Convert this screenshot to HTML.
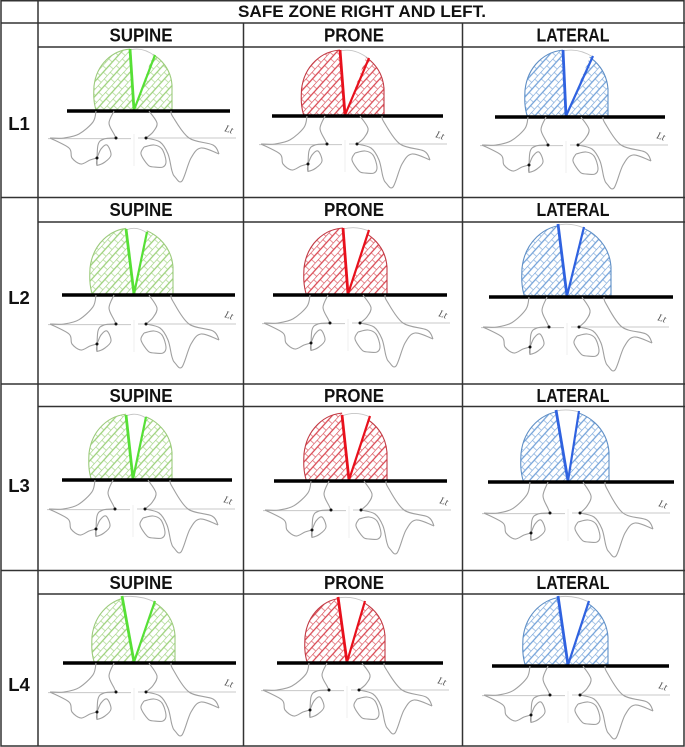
<!DOCTYPE html>
<html lang="en">
<head>
<meta charset="utf-8">
<title>Safe zone right and left</title>
<style>
html,body{margin:0;padding:0;background:#fff;width:685px;height:747px;overflow:hidden}
svg{display:block;filter:blur(.35px)}
text{font-family:"Liberation Sans",sans-serif;font-weight:bold;fill:#111}
</style>
</head>
<body>
<svg id="chart" xmlns="http://www.w3.org/2000/svg" width="685" height="747" viewBox="0 0 685 747">
<defs>
<pattern id="hatch-green" width="9" height="10" patternUnits="userSpaceOnUse" patternTransform="rotate(-48)"><path d="M0 0H9M0 5H9" fill="none" stroke="#9ad078" stroke-width="1.2"/><path d="M2 0V5M6.5 5V10" fill="none" stroke="#9ad078" stroke-width=".6"/></pattern>
<pattern id="hatch-red" width="9" height="10" patternUnits="userSpaceOnUse" patternTransform="rotate(-48)"><path d="M0 0H9M0 5H9" fill="none" stroke="#d8444e" stroke-width="1.2"/><path d="M2 0V5M6.5 5V10" fill="none" stroke="#d8444e" stroke-width=".6"/></pattern>
<pattern id="hatch-blue" width="9" height="10" patternUnits="userSpaceOnUse" patternTransform="rotate(-48)"><path d="M0 0H9M0 5H9" fill="none" stroke="#70a0d8" stroke-width="1.2"/><path d="M2 0V5M6.5 5V10" fill="none" stroke="#70a0d8" stroke-width=".6"/></pattern>
</defs>
<rect width="685" height="747" fill="#fff"/>
<g id="panels"></g>
<g id="grid" stroke="#333" stroke-width="1.5" fill="none">
<path d="M1 .7H684V746H1Z"/>
<path d="M38 0V746"/>
<path d="M243.5 23V746M462.5 23V746"/>
<path d="M1 23H685M1 197.5H685M1 384H685M1 570.5H685"/>
<path d="M38 47H685M38 222H685M38 406.5H685M38 594H685"/>
</g>
<text x="362" y="17" text-anchor="middle" font-size="16.5" textLength="248" lengthAdjust="spacingAndGlyphs">SAFE ZONE RIGHT AND LEFT.</text>
<g id="labels"></g>
</svg>
<script>
const rowLabels = ['L1', 'L2', 'L3', 'L4'];
const columnLabels = ['SUPINE', 'PRONE', 'LATERAL'];
const columnColors = ['#56e035', '#e8101c', '#2f62e0'];
const columnOutline = ['#9ccb7c', '#c23a44', '#5f8fc6'];
const columnHatch = ['hatch-green', 'hatch-red', 'hatch-blue'];

/* Per panel: apexX, barY, barStart, barEnd, domeLeft, domeRight, domeTop,
   leftEdgeX, leftEdgeY, rightEdgeX, rightEdgeY, lateralY */
const panelL1 = [
  [134, 111, 67, 230, 94, 172, 49, 130, 50, 155, 56, 138],
  [345, 116, 272, 443, 301.5, 384, 50, 340, 51, 369, 59, 144],
  [566, 117, 495, 665, 525, 608, 50, 563, 51, 593, 57, 145]
];
const panelL2 = [
  [134, 295, 62, 235, 90, 173, 228, 126, 230, 147, 233, 324],
  [348, 295, 273, 447, 304, 387, 228, 343, 229, 369, 231, 323],
  [567, 297, 489, 673, 522, 611, 225, 558, 225, 584, 228, 327]
];
const panelL3 = [
  [133, 480, 62, 232, 89, 172, 414, 126, 416, 146, 418, 509],
  [349, 481, 274, 447, 304, 387, 413, 342, 416, 370, 417, 510],
  [568, 482, 488, 674, 521, 609, 411, 556, 411, 579, 412, 513]
];
const panelL4 = [
  [134, 663, 63, 236, 92, 175, 597, 122, 597, 155, 602, 692],
  [347, 663, 277, 443, 305, 385, 598, 338, 598, 365, 602, 690],
  [568, 666, 492, 669, 523, 608, 597, 558, 597, 589, 602, 695]
];
const panelRows = [panelL1, panelL2, panelL3, panelL4];

const headerBaselines = [41.5, 216, 402, 589];
const rowLabelBaselines = [130, 304, 492, 691];
const columnCenters = [141, 354, 573];
const columnHeaderWidths = [63, 60, 73];

/* Vertebra outline, relative to the apex x and the lateral reference line */
const leftOuter = [[-38,-27],[-41,-16],[-55,-4],[-70,0],[-84,0]];
const leftLower = [[-84,0],[-65,10],[-62,20],[-53,26],[-44,22],[-37,20]];
const leftOval = [[-37,20],[-37,27],[-29,24],[-23,17],[-27,7],[-33,11],[-37,20]];
const leftStem = [[-18,0],[-30,1],[-36,7],[-37,28]];
const leftCanal = [[-20,-27],[-25,-15],[-20,-4],[-18,0]];
const rightCanal = [[15,-27],[23,-15],[19,-6],[12,0]];
const rightOuter = [[12,0],[26,4],[34,16],[38,33],[41,39],[48,43],[57,20],[67,10],[85,16]];
const rightUpper = [[85,16],[79,7],[55,0],[39,-21],[37,-27]];
const rightBlob = [[10,9],[20,7],[28,11],[32,23],[29,29],[20,29],[14,27],[7,16],[10,9]];
const jointDots = [[-18,0],[12,0],[-37,20]];

const NS = 'http://www.w3.org/2000/svg';
function make(tag, attrs, parent) {
  const el = document.createElementNS(NS, tag);
  for (const k in attrs) el.setAttribute(k, attrs[k]);
  parent.appendChild(el);
  return el;
}
function smooth(pts) {
  let d = 'M' + pts[0][0].toFixed(1) + ' ' + pts[0][1].toFixed(1);
  for (let i = 0; i < pts.length - 1; i++) {
    const p0 = pts[Math.max(i - 1, 0)], p1 = pts[i], p2 = pts[i + 1], p3 = pts[Math.min(i + 2, pts.length - 1)];
    const c1 = [p1[0] + (p2[0] - p0[0]) / 6, p1[1] + (p2[1] - p0[1]) / 6];
    const c2 = [p2[0] - (p3[0] - p1[0]) / 6, p2[1] - (p3[1] - p1[1]) / 6];
    d += 'C' + c1[0].toFixed(1) + ' ' + c1[1].toFixed(1) + ' ' + c2[0].toFixed(1) + ' ' + c2[1].toFixed(1) + ' ' + p2[0].toFixed(1) + ' ' + p2[1].toFixed(1);
  }
  return d;
}

const panelsRoot = document.getElementById('panels');
const labelsRoot = document.getElementById('labels');

panelRows.forEach(function (row, r) {
  const rowLabel = make('text', {x: 19, y: rowLabelBaselines[r], 'text-anchor': 'middle', 'font-size': 18.5}, labelsRoot);
  
  
  rowLabel.textContent = rowLabels[r];

  row.forEach(function (p, c) {
    const [ax, by, b1, b2, dl, dr, dt, lx, ly, rx, ry, latY] = p;
    const slug = columnLabels[c].toLowerCase() + '-' + rowLabels[r].toLowerCase();

    const head = make('text', {x: columnCenters[c], y: headerBaselines[r], 'text-anchor': 'middle', 'font-size': 18, textLength: columnHeaderWidths[c], lengthAdjust: 'spacingAndGlyphs'}, labelsRoot);
    
    
    head.textContent = columnLabels[c];

    const g = make('g', {}, panelsRoot);
    
    

    const U = function (u) { return (dl + u * (dr - dl)).toFixed(1); };
    const V = function (v) { return (dt + v * (by - dt)).toFixed(1); };
    const domeD = 'M' + U(.03) + ' ' + V(1) +
      'C' + U(-.01) + ' ' + V(.85) + ' ' + U(-.005) + ' ' + V(.72) + ' ' + U(0) + ' ' + V(.6) +
      'C' + U(.03) + ' ' + V(.25) + ' ' + U(.24) + ' ' + V(0) + ' ' + U(.5) + ' ' + V(0) +
      'C' + U(.76) + ' ' + V(0) + ' ' + U(.98) + ' ' + V(.25) + ' ' + U(1) + ' ' + V(.58) +
      'L' + U(1) + ' ' + V(1) + 'Z';
    const dome = make('path', {d: domeD, fill: 'url(#' + columnHatch[c] + ')', stroke: columnOutline[c], 'stroke-width': 1.1}, g);
    
    

    const wedge = make('polygon', {points: ax + ',' + by + ' ' + (lx - .3) + ',' + (dt - 4) + ' ' + (rx + 1) + ',' + (dt - 4), fill: '#fff'}, g);
    
    

    const arc = make('path', {d: 'M' + lx + ' ' + ly + 'Q' + ((lx + rx) / 2) + ' ' + (dt - 2.5) + ' ' + rx + ' ' + ry, fill: 'none', stroke: '#c4c4c4', 'stroke-width': .9}, g);
    
    

    const edgeL = make('line', {x1: ax, y1: by - 1, x2: lx, y2: ly - 1, stroke: columnColors[c], 'stroke-width': 2.8}, g);
    
    

    const edgeR = make('line', {x1: ax, y1: by - 1, x2: rx, y2: ry - 1, stroke: columnColors[c], 'stroke-width': 2.2}, g);
    
    

    const bar = make('line', {x1: b1, y1: by, x2: b2, y2: by, stroke: '#000', 'stroke-width': 3.4}, g);
    
    

    const k = (latY - by) / 27;
    const place = function (pts) {
      return pts.map(function (q) { return [ax + q[0], latY + (q[1] < 0 ? q[1] * k : q[1])]; });
    };

    const lateral = make('path', {d: 'M' + (ax - 86) + ' ' + (latY + .6) + 'H' + (ax - 3) + 'M' + (ax + 4) + ' ' + latY + 'H' + (ax + 102), stroke: '#c8c8c8', 'stroke-width': 1, fill: 'none'}, g);
    
    

    const mid = make('line', {x1: ax, y1: latY - 4, x2: ax, y2: latY + 28, stroke: '#efefef', 'stroke-width': 1}, g);
    
    

    [leftOuter, leftLower, leftOval, leftStem, leftCanal, rightCanal, rightOuter, rightUpper, rightBlob].forEach(function (shape) {
      const outline = make('path', {d: smooth(place(shape)), fill: 'none', stroke: '#a0a0a0', 'stroke-width': 1.1}, g);
      
      
    });

    jointDots.forEach(function (q) {
      const dot = make('circle', {cx: ax + q[0], cy: latY + q[1], r: 1.5, fill: '#111'}, g);
      
      
    });

    const tx = ax + 90, ty = latY - 7;
    const lt = make('text', {x: tx, y: ty, 'font-size': 10, transform: 'rotate(18 ' + tx + ' ' + ty + ')', style: 'font-family:"Liberation Serif",serif;font-style:italic;font-weight:normal;fill:#555'}, g);
    
    
    lt.textContent = 'Lt';
  });
});
</script>
</body>
</html>
